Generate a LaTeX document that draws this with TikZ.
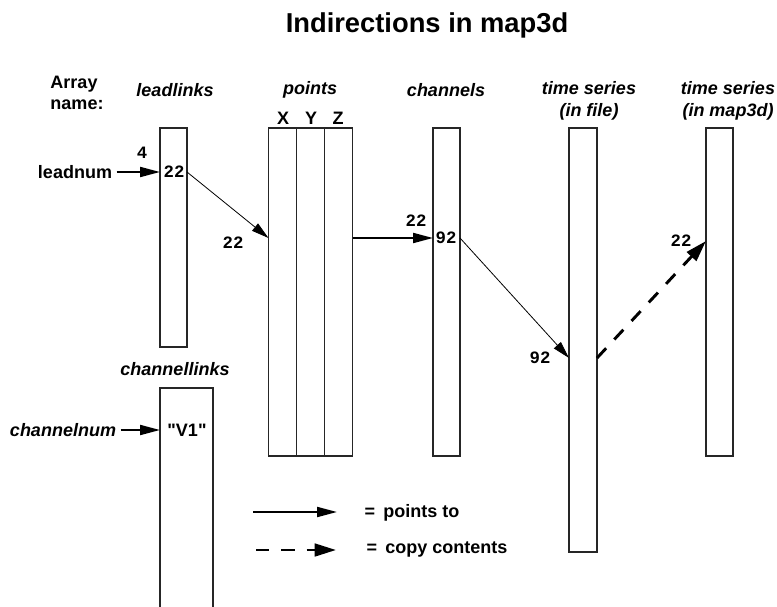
\documentclass[tikz,border=0pt]{standalone}
\usepackage{fontspec}
\setmainfont{Liberation Sans}
\newfontfamily\numfont{Liberation Mono}
\usetikzlibrary{positioning,arrows.meta}

\begin{document}
\begin{tikzpicture}[x=0.75pt,y=-0.75pt,
            pointsto/.style={-{Triangle[length=15pt, width=7.5pt]}, line width=1.5pt},
            thinpointsto/.style={-{Triangle[length=13pt, width=7pt]}, line width=0.6pt},
            copyto/.style={-{Triangle[length=16pt, width=9.5pt]}, line width=2.2pt, dash pattern=on 10pt off 9pt},
            namelabel/.style={font=\fontsize{13.5}{16}\selectfont\bfseries\itshape, align=center},
            plainlabel/.style={font=\fontsize{13.5}{16}\selectfont\bfseries, align=left},
            numlabel/.style={font=\fontsize{13}{15}\selectfont\numfont\bfseries, inner sep=1pt}]
            % An array box style
            \tikzstyle{arraybox} = [draw=black!85, line width=0.9pt, minimum width=20.25pt, inner sep=0pt, outer sep=0pt]
            \useasboundingbox (0,0) rectangle (777,606);

            % Title and array names
            \node (title) [font=\fontsize{20.5}{24}\selectfont\bfseries, anchor=base] at (427,33) {Indirections in map3d};
            \node (arrayname) [plainlabel] at (77,93) {Array\\name:};
            \node (nleadlinks) [namelabel] at (175,90) {leadlinks};
            \node (npoints) [namelabel] at (310,90) {points};
            \node (nchannels) [namelabel] at (446,90) {channels};
            \node (ntsfile) [namelabel] at (589,101) {time series\\(in file)};
            \node (ntsmap) [namelabel] at (728,101) {time series\\(in map3d)};
            \node (nchanlinks) [namelabel] at (175,369) {channellinks};

            % Define the arrays
            \node (leadlinks) [arraybox, minimum height=164.25pt] at (173.5,237.5) {};
            \node (ptsX) [arraybox, minimum width=21pt, minimum height=246pt] at (282.5,292) {};
            \node (ptsY) [arraybox, minimum width=21pt, minimum height=246pt, right=0pt of ptsX] {};
            \node (ptsZ) [arraybox, minimum width=21pt, minimum height=246pt, right=0pt of ptsY] {};
            \node (channels) [arraybox, minimum height=246pt] at (446.5,292) {};
            \node (tsfile) [arraybox, minimum width=21pt, minimum height=318pt] at (583,340) {};
            \node (tsmap) [arraybox, minimum height=246pt] at (719.5,292) {};
            \node (chanlinks) [arraybox, line width=1.5pt, minimum width=39.75pt, minimum height=174pt] at (186.5,504) {};
            \node [plainlabel] at (283,118) {X};
            \node [plainlabel] at (311,118) {Y};
            \node [plainlabel] at (338,118) {Z};

            % Entries and indices
            \node (leadnum) [plainlabel] at (75,172) {leadnum};
            \node (idx4) [numlabel] at (142,153) {4};
            \node (lead22) [numlabel] at (174,172) {22};
            \node (pts22) [numlabel] at (233,243) {22};
            \node (chidx22) [numlabel] at (416,221) {22};
            \node (chan92) [numlabel] at (446,238) {92};
            \node (file92) [numlabel] at (540,358) {92};
            \node (map22) [numlabel] at (681,241) {22};
            \node (chnum) [namelabel] at (63,430) {channelnum};
            \node (v1) [plainlabel] at (187,430) {\textquotedbl V1\textquotedbl};

            % Draw the indirections
            \draw [pointsto] (leadnum) -- (leadlinks.west |- lead22);
            \draw [thinpointsto] (leadlinks.east |- lead22) -- (ptsX.west |- chan92);
            \draw [pointsto] (ptsZ.east |- chan92) -- (channels.west |- chan92);
            \draw [thinpointsto] (channels.east |- chan92) -- (tsfile.west |- file92);
            \draw [copyto] (tsfile.east |- file92) -- (tsmap.west |- map22);
            \draw [pointsto] (chnum) -- (chanlinks.west |- v1);

            % Legend
            \coordinate (lgsolidA) at (253,512);
            \coordinate (lgsolidB) at (337,512);
            \coordinate (lgdashA) at (256,550);
            \coordinate (lgdashB) at (336,550);
            \draw [pointsto] (lgsolidA) -- (lgsolidB);
            \draw [copyto, line width=2pt] (lgdashA) -- (lgdashB);
            \node (lgpoints) [plainlabel, anchor=west] at (360,513) {=\hspace{0.45em}points to};
            \node (lgcopy) [plainlabel, anchor=west] at (362,549) {=\hspace{0.45em}copy contents};
        \end{tikzpicture}
\end{document}
